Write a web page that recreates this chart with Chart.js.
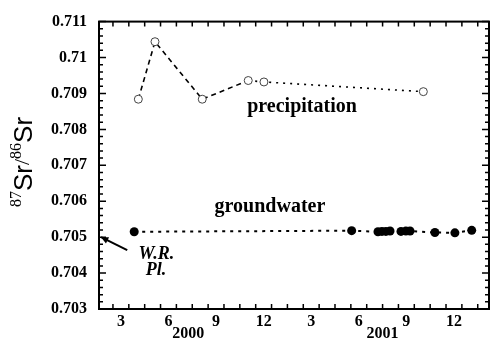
<!DOCTYPE html>
<html>
<head>
<meta charset="utf-8">
<script src="https://cdn.jsdelivr.net/npm/chart.js@4"></script>
<style>
  html, body { margin: 0; padding: 0; background: #fff; }
  #wrap { width: 494px; height: 345px; }
</style>
</head>
<body>
<div id="wrap"><canvas id="srChart"></canvas></div>
<script>
  // months counted from 1 Jan 2000 (3.5 = mid April 2000)
  const precipMonth = [3.60, 4.65, 7.63, 10.53, 11.52, 21.57];
  const precipRatio = [0.70884, 0.71044, 0.70884, 0.70936, 0.70932, 0.70905];

  const gwMonth = [3.34, 17.05, 18.71, 18.96, 19.21, 19.47, 20.16, 20.47, 20.73, 22.30, 23.56, 24.62];
  const gwRatio = [0.70515, 0.70518, 0.70515, 0.70516, 0.70516, 0.70517, 0.70516, 0.70517, 0.70517, 0.70513, 0.70512, 0.70519];

  const monthLabels = ["3", "6", "9", "12", "3", "6", "9", "12"];
  const monthLabelPos = [2.5, 5.5, 8.5, 11.5, 14.5, 17.5, 20.5, 23.5];
  const yearLabels = ["2000", "2001"];
  const yearLabelPos = [6.75, 19];

  const serif = "'Liberation Serif', 'Times New Roman', serif";

  const toPoints = (xs, ys) => xs.map((x, i) => ({ x: x, y: ys[i] }));

  // frame, inward ticks, y title and in-plot labels
  const decorations = {
    id: "decorations",
    afterDraw(chart) {
      const { ctx, chartArea: a, scales: { x, y } } = chart;
      ctx.save();
      ctx.strokeStyle = "#000";
      ctx.fillStyle = "#000";

      ctx.lineWidth = 1.5;
      for (let m = Math.ceil(x.min); m <= x.max; m++) {
        const px = x.getPixelForValue(m);
        ctx.beginPath();
        ctx.moveTo(px, a.bottom); ctx.lineTo(px, a.bottom - 5);
        ctx.moveTo(px, a.top); ctx.lineTo(px, a.top + 5);
        ctx.stroke();
      }
      for (let k = 0; k <= 40; k++) {
        const py = y.getPixelForValue(0.703 + k * 0.0002);
        const len = k % 5 === 0 ? 7 : 4;
        ctx.beginPath();
        ctx.moveTo(a.left, py); ctx.lineTo(a.left + len, py);
        ctx.moveTo(a.right, py); ctx.lineTo(a.right - len, py);
        ctx.stroke();
      }

      ctx.lineWidth = 2;
      ctx.strokeRect(a.left, a.top, a.right - a.left, a.bottom - a.top);

      ctx.textAlign = "center";
      ctx.textBaseline = "middle";
      ctx.font = "bold 20px " + serif;
      ctx.fillText("precipitation", x.getPixelForValue(13.92), y.getPixelForValue(0.70864));
      ctx.fillText("groundwater", x.getPixelForValue(11.9), y.getPixelForValue(0.70585));
      ctx.font = "italic bold 18px " + serif;
      ctx.fillText("W.R.", x.getPixelForValue(4.74), y.getPixelForValue(0.70453));
      ctx.fillText("Pl.", x.getPixelForValue(4.71), y.getPixelForValue(0.70407));

      // arrow to the axis
      const x0 = x.getPixelForValue(2.9), y0 = y.getPixelForValue(0.70464);
      const x1 = x.getPixelForValue(1.25), y1 = y.getPixelForValue(0.70500);
      const ang = Math.atan2(y1 - y0, x1 - x0);
      ctx.lineWidth = 2;
      ctx.beginPath();
      ctx.moveTo(x0, y0); ctx.lineTo(x1, y1);
      ctx.stroke();
      ctx.beginPath();
      ctx.moveTo(x1, y1);
      ctx.lineTo(x1 - 8 * Math.cos(ang - 0.45), y1 - 8 * Math.sin(ang - 0.45));
      ctx.lineTo(x1 - 8 * Math.cos(ang + 0.45), y1 - 8 * Math.sin(ang + 0.45));
      ctx.closePath();
      ctx.fill();

      // y title: 87Sr/86Sr
      const parts = [
        { t: "87", f: "16px " + serif, dy: -8 },
        { t: "Sr", f: "26px 'Liberation Sans', Arial, sans-serif", dy: 0 },
        { t: "/", f: "22px " + serif, dy: -2 },
        { t: "86", f: "16px " + serif, dy: -8 },
        { t: "Sr", f: "26px 'Liberation Sans', Arial, sans-serif", dy: 0 }
      ];
      let total = 0;
      parts.forEach(p => { ctx.font = p.f; p.w = ctx.measureText(p.t).width; total += p.w; });
      ctx.translate(23, 162);
      ctx.rotate(-Math.PI / 2);
      ctx.textAlign = "left";
      ctx.textBaseline = "middle";
      let cx = -total / 2;
      parts.forEach(p => { ctx.font = p.f; ctx.fillText(p.t, cx, p.dy + 2); cx += p.w; });
      ctx.restore();
    }
  };

  new Chart(document.getElementById("srChart"), {
    type: "scatter",
    data: {
      datasets: [
        {
          label: "precipitation",
          data: toPoints(precipMonth, precipRatio),
          showLine: true,
          borderColor: "#000",
          borderWidth: 1.6,
          segment: {
            borderDash: c => c.p0DataIndex >= 3 ? [2, 5] : [5, 4]
          },
          pointRadius: 4,
          pointBorderWidth: 1,
          pointBorderColor: "#444",
          pointBackgroundColor: "#fff"
        },
        {
          label: "groundwater",
          data: toPoints(gwMonth, gwRatio),
          showLine: true,
          borderColor: "#000",
          borderWidth: 2,
          borderDash: [3, 5],
          pointRadius: 4.5,
          pointBorderWidth: 0,
          pointBackgroundColor: "#000"
        }
      ]
    },
    options: {
      responsive: true,
      maintainAspectRatio: false,
      animation: false,
      layout: { padding: { top: 17, right: 5, left: 0, bottom: 0 } },
      plugins: {
        legend: { display: false },
        tooltip: { enabled: false }
      },
      scales: {
        x: {
          type: "linear",
          min: 1.12,
          max: 25.71,
          grid: { display: false, drawTicks: false },
          border: { display: false },
          afterBuildTicks: axis => {
            axis.ticks = monthLabelPos.map(v => ({ value: v }))
              .concat(yearLabelPos.map(v => ({ value: v })));
          },
          afterFit: axis => { axis.height = 36; },
          ticks: {
            autoSkip: false,
            maxRotation: 0,
            padding: 7,
            color: "#000",
            font: { family: serif, weight: "bold", size: 16, lineHeight: 0.75 },
            callback: (v, i) => i < monthLabels.length
              ? monthLabels[i]
              : ["", yearLabels[i - monthLabels.length]]
          }
        },
        y: {
          min: 0.703,
          max: 0.711,
          grid: { display: false, drawTicks: false },
          border: { display: false },
          afterFit: axis => { axis.width = 99; },
          ticks: {
            stepSize: 0.001,
            padding: 12,
            color: "#000",
            font: { family: serif, weight: "bold", size: 16 },
            callback: v => String(+v.toFixed(3))
          }
        }
      }
    },
    plugins: [decorations]
  });
</script>
</body>
</html>
